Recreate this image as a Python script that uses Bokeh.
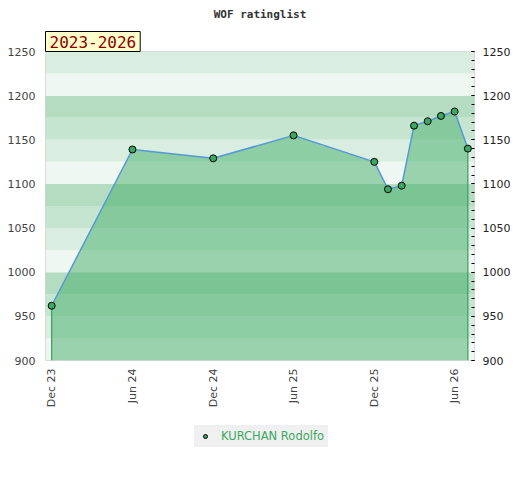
import math
import pandas as pd
from bokeh.plotting import figure
from bokeh.layouts import column
from bokeh.models import (Range1d, LinearAxis, BoxAnnotation, Title, Legend, LegendItem,
                          DatetimeTickFormatter, FixedTicker, SingleIntervalTicker, ColumnDataSource)
from bokeh.embed import file_html
from bokeh.resources import INLINE

# ---- data ----
chart_title = "WOF ratinglist"
player = "KURCHAN Rodolfo"
period_label = "2023-2026"
dates = ["2023-12-01", "2024-06-01", "2024-12-01", "2025-06-01", "2025-12-01", "2026-01-01",
         "2026-02-01", "2026-03-01", "2026-04-01", "2026-05-01", "2026-06-01", "2026-07-01"]
ratings = [962, 1139, 1129, 1155, 1125, 1094, 1098, 1166, 1171, 1177, 1182, 1140]
tick_dates = ["2023-12-01", "2024-06-01", "2024-12-01", "2025-06-01", "2025-12-01", "2026-06-01"]
y_min, y_max = 900, 1250
band_step = 25
band_colors = ["#eef7f1", "#d9eee0", "#c6e5d0", "#b3dcc0"]

x = [d.to_pydatetime() for d in pd.to_datetime(dates)]
ticks_ms = [pd.Timestamp(d).value / 1e6 for d in tick_dates]
src = ColumnDataSource(dict(x=x, y=ratings, base=[y_min] * len(ratings)))
x_start = x[0] - pd.Timedelta(days=14).to_pytimedelta()
x_end = x[-1] + pd.Timedelta(days=15).to_pytimedelta()

FONT = "DejaVu Sans"
MONO = "DejaVu Sans Mono"
MARKER = dict(size=7, fill_color="#3aa860", line_color="black", line_width=1)

p = figure(width=520, height=410, x_axis_type="datetime", title=None,
           x_range=Range1d(x_start, x_end), y_range=Range1d(y_min, y_max),
           output_backend="svg", toolbar_location=None,
           min_border_left=45, min_border_right=46, min_border_top=50, min_border_bottom=49)

p.grid.visible = False
p.outline_line_color = "#d5d5d5"
p.background_fill_color = "white"
p.border_fill_color = "white"

# background bands
for lo in range(y_min, y_max, band_step):
    c = band_colors[(lo % 100) // band_step]
    p.add_layout(BoxAnnotation(bottom=lo, top=lo + band_step, fill_color=c, fill_alpha=1.0,
                               line_color=None, level="underlay"))

p.varea(x="x", y1="base", y2="y", source=src, fill_color="#43ae68", fill_alpha=0.5)
p.segment(x0=[x[0], x[-1]], y0=[ratings[0], ratings[-1]], x1=[x[0], x[-1]], y1=[y_min, y_min],
          line_color="#3a9d5d", line_width=1.2)
p.line("x", "y", source=src, line_color="#5499d6", line_width=1.5)
p.scatter("x", "y", source=src, **MARKER)

# axes
xa = p.xaxis[0]
xa.ticker = FixedTicker(ticks=ticks_ms)
xa.formatter = DatetimeTickFormatter(months="%b %y", days="%b %y", years="%b %y")
xa.major_label_orientation = math.pi / 2
xa.major_tick_line_color = None
xa.minor_tick_line_color = None
xa.major_tick_out = 0
xa.minor_tick_out = 0
xa.axis_line_color = None
xa.major_label_standoff = 8
xa.major_label_text_font = FONT
xa.major_label_text_font_size = "11px"
xa.major_label_text_color = "#444444"

ya = p.yaxis[0]
ya.ticker = SingleIntervalTicker(interval=50)
ya.major_tick_line_color = None
ya.minor_tick_line_color = None
ya.major_tick_out = 0
ya.minor_tick_out = 0
ya.axis_line_color = None
ya.major_label_standoff = 10
ya.major_label_text_font = FONT
ya.major_label_text_font_size = "11px"
ya.major_label_text_color = "#444444"

ra = LinearAxis(ticker=SingleIntervalTicker(interval=50, num_minor_ticks=5))
ra.axis_line_color = None
ra.major_tick_in = 3
ra.major_tick_out = 0
ra.minor_tick_in = 3
ra.minor_tick_out = 0
ra.major_tick_line_color = "black"
ra.minor_tick_line_color = "black"
ra.major_label_standoff = 8
ra.major_label_text_font = FONT
ra.major_label_text_font_size = "11px"
ra.major_label_text_color = "#222222"
p.add_layout(ra, "right")

# badge (closest to frame), then main title above it
badge = Title(text=period_label, align="left", text_font=MONO, text_font_size="16px",
              text_font_style="normal", text_color="#8b0000",
              background_fill_color="#ffffcc", background_fill_alpha=1.0,
              border_line_color="black", border_line_width=1, padding=4, standoff=0, offset=0)
p.add_layout(badge, "above")
main_title = Title(text=chart_title, align="center", vertical_align="top", text_font=MONO,
                   text_font_size="11px", text_font_style="bold", text_color="#333333",
                   standoff=14)
p.add_layout(main_title, "above")

# legend strip below the chart
q = figure(width=520, height=70, x_range=Range1d(0, 1), y_range=Range1d(0, 1),
           output_backend="svg", toolbar_location=None, min_border=0)
q.axis.visible = False
q.grid.visible = False
q.outline_line_color = None
proxy = q.scatter("x", "y", source=src, **MARKER)  # lies outside q's ranges: only the legend shows it
legend = Legend(items=[LegendItem(label=player, renderers=[proxy])], location=(149, 33),
                background_fill_color="#f0f0f0", background_fill_alpha=1.0,
                border_line_color="#f0f0f0", border_line_width=1,
                label_text_color="#3aa860", label_text_font=FONT,
                label_text_font_size="11.5px", glyph_width=14, glyph_height=10, label_height=10,
                label_standoff=9, padding=3, margin=0)
q.add_layout(legend)

open("out.html", "w").write(file_html(column(p, q, spacing=0), INLINE))
